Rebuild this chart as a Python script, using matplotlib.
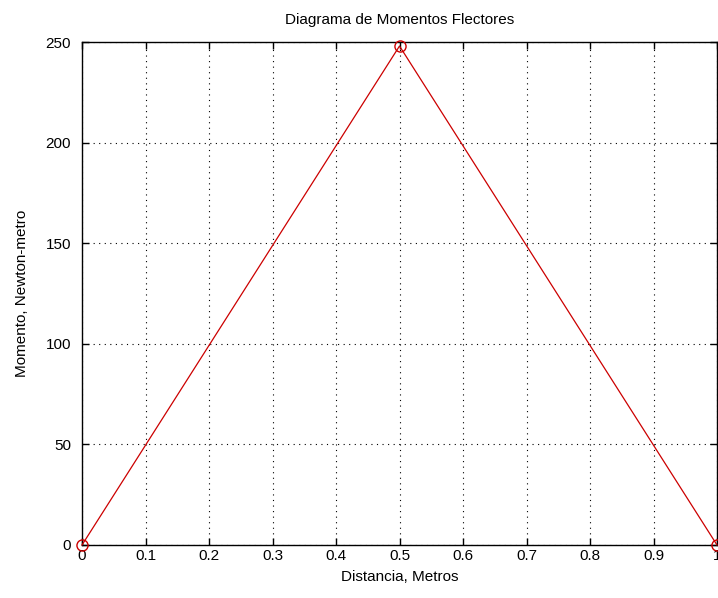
import matplotlib
matplotlib.use("Agg")
import matplotlib.pyplot as plt

distancia = [0.0, 0.5, 1.0]
momento = [0.0, 248.0, 0.0]
xticks = [0, 0.1, 0.2, 0.3, 0.4, 0.5, 0.6, 0.7, 0.8, 0.9, 1]
xtick_labels = ["0", "0.1", "0.2", "0.3", "0.4", "0.5", "0.6", "0.7", "0.8", "0.9", "1"]
yticks = [0, 50, 100, 150, 200, 250]

plt.rcParams['font.family'] = ['Liberation Sans Narrow', 'Liberation Sans', 'DejaVu Sans']

fig = plt.figure(figsize=(7.18, 5.98), dpi=100)
# axes box: x 82..717 px, y 42..545 px
ax = fig.add_axes([82 / 718, 53 / 598, 635 / 718, 503 / 598])

ax.plot(distancia, momento, color='#cc0000', linewidth=0.9, marker='o',
        markersize=8, markerfacecolor='none', markeredgecolor='#cc0000',
        markeredgewidth=1.0, clip_on=False, zorder=3)

ax.set_xlim(0, 1)
ax.set_ylim(0, 250)
ax.set_xticks(xticks)
ax.set_xticklabels(xtick_labels)
ax.set_yticks(yticks)
ax.tick_params(direction='in', top=True, right=True, length=5, width=1,
               labelsize=11)
ax.tick_params(axis='x', pad=3)
ax.tick_params(axis='y', pad=8)
ax.grid(True, color='black', linestyle=(0, (1, 4)), linewidth=0.8)
for s in ax.spines.values():
    s.set_linewidth(1.0)

ax.set_title("Diagrama de Momentos Flectores", fontsize=11, pad=13)
ax.set_xlabel("Distancia, Metros", fontsize=11, labelpad=5)
ax.set_ylabel("Momento, Newton-metro", fontsize=11, labelpad=12)

fig.savefig("out.png", dpi=100)
